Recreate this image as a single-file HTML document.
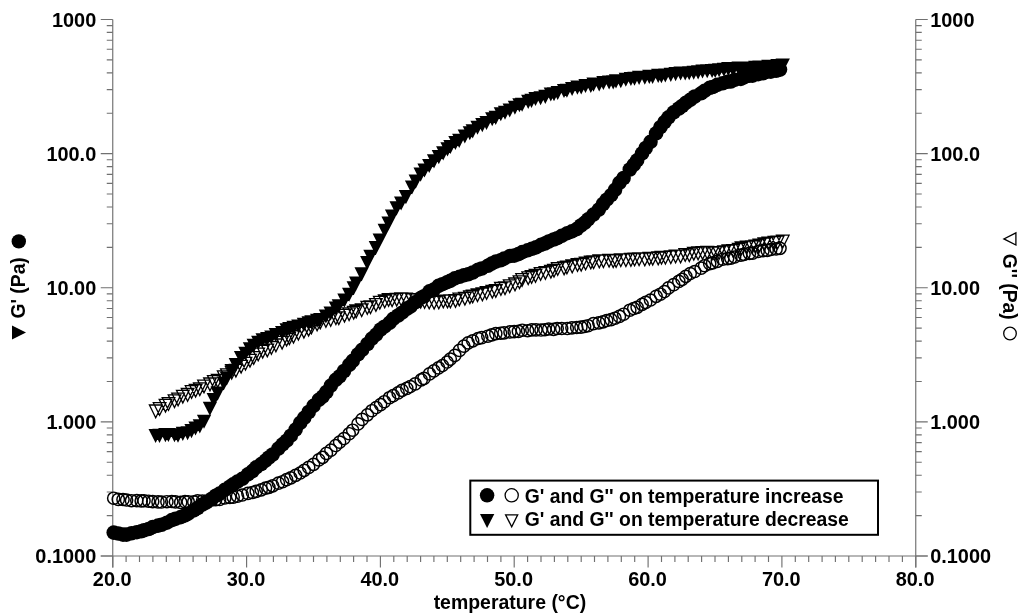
<!DOCTYPE html>
<html><head><meta charset="utf-8"><title>chart</title>
<style>
html,body{margin:0;padding:0;background:#fff;}
body{width:1024px;height:616px;overflow:hidden;}
svg{display:block;will-change:transform;}
text{font-family:"Liberation Sans",sans-serif;font-weight:bold;fill:#000;}
</style></head><body>
<svg width="1024" height="616" viewBox="0 0 1024 616">
<rect width="1024" height="616" fill="#fff"/>
<g stroke="#707070" stroke-width="1.15" fill="none"><path d="M112.75 19.45V567.5"/><path d="M915.75 19.45V567.5"/><path d="M100.75 556.0H927.75"/><path d="M100.75 556.0H112.75M915.75 556.0H927.75M106.75 515.6H112.75M915.75 515.6H921.75M106.75 492.0H112.75M915.75 492.0H921.75M106.75 475.2H112.75M915.75 475.2H921.75M106.75 462.2H112.75M915.75 462.2H921.75M106.75 451.6H112.75M915.75 451.6H921.75M106.75 442.6H112.75M915.75 442.6H921.75M106.75 434.9H112.75M915.75 434.9H921.75M106.75 428.0H112.75M915.75 428.0H921.75M100.75 421.9H112.75M915.75 421.9H927.75M106.75 381.5H112.75M915.75 381.5H921.75M106.75 357.9H112.75M915.75 357.9H921.75M106.75 341.1H112.75M915.75 341.1H921.75M106.75 328.1H112.75M915.75 328.1H921.75M106.75 317.5H112.75M915.75 317.5H921.75M106.75 308.5H112.75M915.75 308.5H921.75M106.75 300.7H112.75M915.75 300.7H921.75M106.75 293.9H112.75M915.75 293.9H921.75M100.75 287.7H112.75M915.75 287.7H927.75M106.75 247.3H112.75M915.75 247.3H921.75M106.75 223.7H112.75M915.75 223.7H921.75M106.75 207.0H112.75M915.75 207.0H921.75M106.75 194.0H112.75M915.75 194.0H921.75M106.75 183.3H112.75M915.75 183.3H921.75M106.75 174.4H112.75M915.75 174.4H921.75M106.75 166.6H112.75M915.75 166.6H921.75M106.75 159.7H112.75M915.75 159.7H921.75M100.75 153.6H112.75M915.75 153.6H927.75M106.75 113.2H112.75M915.75 113.2H921.75M106.75 89.6H112.75M915.75 89.6H921.75M106.75 72.8H112.75M915.75 72.8H921.75M106.75 59.8H112.75M915.75 59.8H921.75M106.75 49.2H112.75M915.75 49.2H921.75M106.75 40.2H112.75M915.75 40.2H921.75M106.75 32.4H112.75M915.75 32.4H921.75M106.75 25.6H112.75M915.75 25.6H921.75M100.75 19.5H112.75M915.75 19.5H927.75M112.8 556.0V567.5M126.1 556.0V562.0M139.5 556.0V562.0M152.9 556.0V562.0M166.3 556.0V562.0M179.7 556.0V562.0M193.1 556.0V562.0M206.4 556.0V562.0M219.8 556.0V562.0M233.2 556.0V562.0M246.6 556.0V567.5M260.0 556.0V562.0M273.4 556.0V562.0M286.7 556.0V562.0M300.1 556.0V562.0M313.5 556.0V562.0M326.9 556.0V562.0M340.3 556.0V562.0M353.6 556.0V562.0M367.0 556.0V562.0M380.4 556.0V567.5M393.8 556.0V562.0M407.2 556.0V562.0M420.6 556.0V562.0M433.9 556.0V562.0M447.3 556.0V562.0M460.7 556.0V562.0M474.1 556.0V562.0M487.5 556.0V562.0M500.9 556.0V562.0M514.2 556.0V567.5M527.6 556.0V562.0M541.0 556.0V562.0M554.4 556.0V562.0M567.8 556.0V562.0M581.2 556.0V562.0M594.5 556.0V562.0M607.9 556.0V562.0M621.3 556.0V562.0M634.7 556.0V562.0M648.1 556.0V567.5M661.5 556.0V562.0M674.9 556.0V562.0M688.2 556.0V562.0M701.6 556.0V562.0M715.0 556.0V562.0M728.4 556.0V562.0M741.8 556.0V562.0M755.1 556.0V562.0M768.5 556.0V562.0M781.9 556.0V567.5M795.3 556.0V562.0M808.7 556.0V562.0M822.1 556.0V562.0M835.4 556.0V562.0M848.8 556.0V562.0M862.2 556.0V562.0M875.6 556.0V562.0M889.0 556.0V562.0M902.4 556.0V562.0M915.8 556.0V567.5"/></g>
<text transform="translate(96.2 563.1) scale(1 1.03)" font-size="19.9" text-anchor="end" >0.1000</text>
<text transform="translate(930.2 563.1) scale(1 1.03)" font-size="19.9" text-anchor="start" >0.1000</text>
<text transform="translate(96.2 429.0) scale(1 1.03)" font-size="19.9" text-anchor="end" >1.000</text>
<text transform="translate(930.2 429.0) scale(1 1.03)" font-size="19.9" text-anchor="start" >1.000</text>
<text transform="translate(96.2 294.8) scale(1 1.03)" font-size="19.9" text-anchor="end" >10.00</text>
<text transform="translate(930.2 294.8) scale(1 1.03)" font-size="19.9" text-anchor="start" >10.00</text>
<text transform="translate(96.2 160.7) scale(1 1.03)" font-size="19.9" text-anchor="end" >100.0</text>
<text transform="translate(930.2 160.7) scale(1 1.03)" font-size="19.9" text-anchor="start" >100.0</text>
<text transform="translate(96.2 26.6) scale(1 1.03)" font-size="19.9" text-anchor="end" >1000</text>
<text transform="translate(930.2 26.6) scale(1 1.03)" font-size="19.9" text-anchor="start" >1000</text>
<text transform="translate(112.2 586.2) scale(1 1.03)" font-size="19.9" text-anchor="middle" >20.0</text>
<text transform="translate(246.0 586.2) scale(1 1.03)" font-size="19.9" text-anchor="middle" >30.0</text>
<text transform="translate(379.8 586.2) scale(1 1.03)" font-size="19.9" text-anchor="middle" >40.0</text>
<text transform="translate(513.6 586.2) scale(1 1.03)" font-size="19.9" text-anchor="middle" >50.0</text>
<text transform="translate(647.5 586.2) scale(1 1.03)" font-size="19.9" text-anchor="middle" >60.0</text>
<text transform="translate(781.3 586.2) scale(1 1.03)" font-size="19.9" text-anchor="middle" >70.0</text>
<text transform="translate(915.1 586.2) scale(1 1.03)" font-size="19.9" text-anchor="middle" >80.0</text>
<text transform="translate(509.9 609.2) scale(1 1.03)" font-size="19.45" text-anchor="middle" >temperature (°C)</text>
<g fill="none" stroke="#000" stroke-width="1.45"><circle cx="113.7" cy="498.2" r="6.1"/><circle cx="118.3" cy="499.4" r="6.1"/><circle cx="123.0" cy="499.5" r="6.1"/><circle cx="126.6" cy="500.0" r="6.1"/><circle cx="131.5" cy="500.7" r="6.1"/><circle cx="136.8" cy="500.6" r="6.1"/><circle cx="141.2" cy="500.9" r="6.1"/><circle cx="144.0" cy="500.7" r="6.1"/><circle cx="148.6" cy="501.2" r="6.1"/><circle cx="152.7" cy="501.6" r="6.1"/><circle cx="158.0" cy="501.9" r="6.1"/><circle cx="161.5" cy="502.0" r="6.1"/><circle cx="166.9" cy="501.7" r="6.1"/><circle cx="171.8" cy="501.5" r="6.1"/><circle cx="175.4" cy="501.8" r="6.1"/><circle cx="180.7" cy="502.4" r="6.1"/><circle cx="185.0" cy="501.6" r="6.1"/><circle cx="188.2" cy="501.7" r="6.1"/><circle cx="193.8" cy="501.9" r="6.1"/><circle cx="197.6" cy="500.8" r="6.1"/><circle cx="202.4" cy="501.0" r="6.1"/><circle cx="206.5" cy="501.1" r="6.1"/><circle cx="211.8" cy="499.8" r="6.1"/><circle cx="215.7" cy="499.6" r="6.1"/><circle cx="219.6" cy="499.5" r="6.1"/><circle cx="224.8" cy="497.9" r="6.1"/><circle cx="229.8" cy="497.5" r="6.1"/><circle cx="233.2" cy="497.1" r="6.1"/><circle cx="237.5" cy="496.2" r="6.1"/><circle cx="242.3" cy="495.0" r="6.1"/><circle cx="247.9" cy="493.4" r="6.1"/><circle cx="252.4" cy="492.5" r="6.1"/><circle cx="256.2" cy="491.3" r="6.1"/><circle cx="261.2" cy="489.8" r="6.1"/><circle cx="265.5" cy="488.1" r="6.1"/><circle cx="268.9" cy="487.3" r="6.1"/><circle cx="272.7" cy="485.8" r="6.1"/><circle cx="278.4" cy="483.1" r="6.1"/><circle cx="282.6" cy="481.7" r="6.1"/><circle cx="286.6" cy="479.6" r="6.1"/><circle cx="290.8" cy="477.8" r="6.1"/><circle cx="295.6" cy="475.3" r="6.1"/><circle cx="300.2" cy="473.0" r="6.1"/><circle cx="304.2" cy="470.3" r="6.1"/><circle cx="308.7" cy="467.4" r="6.1"/><circle cx="313.5" cy="464.3" r="6.1"/><circle cx="318.8" cy="459.9" r="6.1"/><circle cx="322.7" cy="457.3" r="6.1"/><circle cx="326.4" cy="453.4" r="6.1"/><circle cx="330.9" cy="450.1" r="6.1"/><circle cx="335.7" cy="445.5" r="6.1"/><circle cx="339.6" cy="442.1" r="6.1"/><circle cx="344.0" cy="438.5" r="6.1"/><circle cx="349.2" cy="433.7" r="6.1"/><circle cx="352.7" cy="430.2" r="6.1"/><circle cx="358.0" cy="423.9" r="6.1"/><circle cx="362.1" cy="419.4" r="6.1"/><circle cx="367.4" cy="414.8" r="6.1"/><circle cx="371.9" cy="410.7" r="6.1"/><circle cx="376.2" cy="407.5" r="6.1"/><circle cx="380.6" cy="404.6" r="6.1"/><circle cx="384.4" cy="401.7" r="6.1"/><circle cx="389.5" cy="397.7" r="6.1"/><circle cx="393.2" cy="395.6" r="6.1"/><circle cx="398.1" cy="392.9" r="6.1"/><circle cx="402.0" cy="390.3" r="6.1"/><circle cx="406.8" cy="388.4" r="6.1"/><circle cx="410.3" cy="386.5" r="6.1"/><circle cx="415.2" cy="383.9" r="6.1"/><circle cx="421.2" cy="379.9" r="6.1"/><circle cx="424.0" cy="378.4" r="6.1"/><circle cx="429.5" cy="373.9" r="6.1"/><circle cx="433.9" cy="370.9" r="6.1"/><circle cx="438.5" cy="367.9" r="6.1"/><circle cx="442.4" cy="365.5" r="6.1"/><circle cx="447.1" cy="362.0" r="6.1"/><circle cx="450.3" cy="359.1" r="6.1"/><circle cx="454.8" cy="355.4" r="6.1"/><circle cx="459.5" cy="350.4" r="6.1"/><circle cx="463.9" cy="346.1" r="6.1"/><circle cx="468.2" cy="342.9" r="6.1"/><circle cx="472.7" cy="340.8" r="6.1"/><circle cx="478.1" cy="338.5" r="6.1"/><circle cx="481.7" cy="337.6" r="6.1"/><circle cx="487.8" cy="336.2" r="6.1"/><circle cx="491.7" cy="334.9" r="6.1"/><circle cx="495.8" cy="333.6" r="6.1"/><circle cx="500.6" cy="333.2" r="6.1"/><circle cx="504.1" cy="332.8" r="6.1"/><circle cx="510.0" cy="331.9" r="6.1"/><circle cx="514.2" cy="331.6" r="6.1"/><circle cx="518.4" cy="331.4" r="6.1"/><circle cx="522.3" cy="330.2" r="6.1"/><circle cx="527.6" cy="330.7" r="6.1"/><circle cx="531.8" cy="329.8" r="6.1"/><circle cx="536.0" cy="329.8" r="6.1"/><circle cx="541.0" cy="330.0" r="6.1"/><circle cx="544.9" cy="329.7" r="6.1"/><circle cx="548.7" cy="329.0" r="6.1"/><circle cx="553.6" cy="329.3" r="6.1"/><circle cx="557.2" cy="328.5" r="6.1"/><circle cx="561.7" cy="328.5" r="6.1"/><circle cx="567.3" cy="328.5" r="6.1"/><circle cx="571.9" cy="327.8" r="6.1"/><circle cx="576.7" cy="327.5" r="6.1"/><circle cx="580.9" cy="327.1" r="6.1"/><circle cx="584.6" cy="326.5" r="6.1"/><circle cx="588.1" cy="325.7" r="6.1"/><circle cx="593.4" cy="323.6" r="6.1"/><circle cx="598.8" cy="322.8" r="6.1"/><circle cx="603.0" cy="321.8" r="6.1"/><circle cx="606.7" cy="320.5" r="6.1"/><circle cx="611.1" cy="319.6" r="6.1"/><circle cx="615.0" cy="318.2" r="6.1"/><circle cx="619.4" cy="316.4" r="6.1"/><circle cx="623.6" cy="314.2" r="6.1"/><circle cx="629.8" cy="310.2" r="6.1"/><circle cx="633.7" cy="308.5" r="6.1"/><circle cx="637.1" cy="307.3" r="6.1"/><circle cx="642.1" cy="304.3" r="6.1"/><circle cx="645.7" cy="302.4" r="6.1"/><circle cx="650.5" cy="300.0" r="6.1"/><circle cx="656.1" cy="296.3" r="6.1"/><circle cx="660.4" cy="294.2" r="6.1"/><circle cx="664.5" cy="291.5" r="6.1"/><circle cx="668.5" cy="287.9" r="6.1"/><circle cx="673.7" cy="284.6" r="6.1"/><circle cx="678.8" cy="281.4" r="6.1"/><circle cx="682.1" cy="279.4" r="6.1"/><circle cx="685.8" cy="276.3" r="6.1"/><circle cx="690.2" cy="273.5" r="6.1"/><circle cx="694.7" cy="271.5" r="6.1"/><circle cx="701.1" cy="268.1" r="6.1"/><circle cx="704.6" cy="265.7" r="6.1"/><circle cx="709.7" cy="263.7" r="6.1"/><circle cx="712.6" cy="262.8" r="6.1"/><circle cx="717.3" cy="261.3" r="6.1"/><circle cx="722.7" cy="259.2" r="6.1"/><circle cx="727.6" cy="258.6" r="6.1"/><circle cx="730.8" cy="258.1" r="6.1"/><circle cx="734.6" cy="257.0" r="6.1"/><circle cx="740.8" cy="255.2" r="6.1"/><circle cx="744.0" cy="254.3" r="6.1"/><circle cx="749.4" cy="253.4" r="6.1"/><circle cx="752.6" cy="253.2" r="6.1"/><circle cx="758.2" cy="251.4" r="6.1"/><circle cx="763.0" cy="250.6" r="6.1"/><circle cx="767.2" cy="250.4" r="6.1"/><circle cx="770.8" cy="249.5" r="6.1"/><circle cx="776.1" cy="248.9" r="6.1"/><circle cx="780.0" cy="248.3" r="6.1"/></g>
<path d="M776.5 235.2h12.6l-6.3 12.7zM771.3 236.2h12.6l-6.3 12.7zM768.2 236.5h12.6l-6.3 12.7zM762.1 237.2h12.6l-6.3 12.7zM758.0 238.0h12.6l-6.3 12.7zM753.1 239.1h12.6l-6.3 12.7zM749.1 240.2h12.6l-6.3 12.7zM745.8 240.8h12.6l-6.3 12.7zM740.5 241.1h12.6l-6.3 12.7zM735.2 242.0h12.6l-6.3 12.7zM732.4 243.4h12.6l-6.3 12.7zM726.9 244.6h12.6l-6.3 12.7zM722.1 245.0h12.6l-6.3 12.7zM717.7 245.9h12.6l-6.3 12.7zM712.8 246.6h12.6l-6.3 12.7zM709.0 246.6h12.6l-6.3 12.7zM705.8 247.0h12.6l-6.3 12.7zM700.9 246.3h12.6l-6.3 12.7zM696.3 246.7h12.6l-6.3 12.7zM691.8 247.0h12.6l-6.3 12.7zM687.5 247.4h12.6l-6.3 12.7zM683.0 248.9h12.6l-6.3 12.7zM678.9 248.7h12.6l-6.3 12.7zM674.3 250.1h12.6l-6.3 12.7zM669.3 250.1h12.6l-6.3 12.7zM664.5 250.8h12.6l-6.3 12.7zM659.1 251.3h12.6l-6.3 12.7zM655.2 251.4h12.6l-6.3 12.7zM651.9 252.0h12.6l-6.3 12.7zM646.4 252.4h12.6l-6.3 12.7zM643.1 252.4h12.6l-6.3 12.7zM638.5 253.1h12.6l-6.3 12.7zM632.8 252.9h12.6l-6.3 12.7zM628.3 253.2h12.6l-6.3 12.7zM624.6 253.5h12.6l-6.3 12.7zM619.6 253.8h12.6l-6.3 12.7zM614.5 253.8h12.6l-6.3 12.7zM609.8 254.7h12.6l-6.3 12.7zM606.9 254.8h12.6l-6.3 12.7zM602.8 254.3h12.6l-6.3 12.7zM597.1 254.9h12.6l-6.3 12.7zM593.0 255.0h12.6l-6.3 12.7zM587.3 255.9h12.6l-6.3 12.7zM584.5 256.1h12.6l-6.3 12.7zM579.3 257.2h12.6l-6.3 12.7zM574.9 258.4h12.6l-6.3 12.7zM571.2 258.6h12.6l-6.3 12.7zM565.9 260.0h12.6l-6.3 12.7zM560.6 261.2h12.6l-6.3 12.7zM557.8 262.0h12.6l-6.3 12.7zM551.4 262.7h12.6l-6.3 12.7zM547.7 264.3h12.6l-6.3 12.7zM544.6 265.4h12.6l-6.3 12.7zM539.1 266.6h12.6l-6.3 12.7zM534.3 267.6h12.6l-6.3 12.7zM529.2 269.5h12.6l-6.3 12.7zM525.3 270.7h12.6l-6.3 12.7zM521.9 271.8h12.6l-6.3 12.7zM515.8 273.7h12.6l-6.3 12.7zM513.2 275.8h12.6l-6.3 12.7zM508.7 278.0h12.6l-6.3 12.7zM503.4 279.9h12.6l-6.3 12.7zM498.7 281.8h12.6l-6.3 12.7zM494.6 282.5h12.6l-6.3 12.7zM489.5 284.7h12.6l-6.3 12.7zM486.0 285.4h12.6l-6.3 12.7zM480.3 286.7h12.6l-6.3 12.7zM476.1 288.0h12.6l-6.3 12.7zM471.2 288.8h12.6l-6.3 12.7zM466.4 290.2h12.6l-6.3 12.7zM463.6 290.8h12.6l-6.3 12.7zM458.6 292.3h12.6l-6.3 12.7zM453.0 293.1h12.6l-6.3 12.7zM449.2 294.6h12.6l-6.3 12.7zM444.1 295.0h12.6l-6.3 12.7zM441.2 295.2h12.6l-6.3 12.7zM437.0 295.1h12.6l-6.3 12.7zM432.5 296.0h12.6l-6.3 12.7zM427.8 296.3h12.6l-6.3 12.7zM422.9 296.2h12.6l-6.3 12.7zM418.3 295.5h12.6l-6.3 12.7zM414.4 295.4h12.6l-6.3 12.7zM409.5 293.7h12.6l-6.3 12.7zM405.7 293.8h12.6l-6.3 12.7zM399.7 293.2h12.6l-6.3 12.7zM394.9 293.0h12.6l-6.3 12.7zM390.4 293.4h12.6l-6.3 12.7zM385.8 293.8h12.6l-6.3 12.7zM382.3 293.7h12.6l-6.3 12.7zM378.4 295.0h12.6l-6.3 12.7zM373.5 296.4h12.6l-6.3 12.7zM369.6 298.6h12.6l-6.3 12.7zM364.2 300.9h12.6l-6.3 12.7zM361.0 301.5h12.6l-6.3 12.7zM355.4 303.9h12.6l-6.3 12.7zM349.9 305.0h12.6l-6.3 12.7zM347.4 306.3h12.6l-6.3 12.7zM342.8 307.8h12.6l-6.3 12.7zM338.2 309.4h12.6l-6.3 12.7zM332.5 311.8h12.6l-6.3 12.7zM329.6 311.8h12.6l-6.3 12.7zM324.4 313.5h12.6l-6.3 12.7zM319.6 314.6h12.6l-6.3 12.7zM314.0 316.2h12.6l-6.3 12.7zM310.8 318.2h12.6l-6.3 12.7zM305.1 321.2h12.6l-6.3 12.7zM302.3 323.3h12.6l-6.3 12.7zM297.6 325.4h12.6l-6.3 12.7zM292.1 327.3h12.6l-6.3 12.7zM287.2 330.3h12.6l-6.3 12.7zM283.1 331.8h12.6l-6.3 12.7zM280.3 333.3h12.6l-6.3 12.7zM275.8 336.3h12.6l-6.3 12.7zM269.6 339.0h12.6l-6.3 12.7zM265.1 341.5h12.6l-6.3 12.7zM261.0 344.1h12.6l-6.3 12.7zM256.4 345.4h12.6l-6.3 12.7zM251.9 348.1h12.6l-6.3 12.7zM247.4 351.7h12.6l-6.3 12.7zM243.7 354.4h12.6l-6.3 12.7zM239.2 357.3h12.6l-6.3 12.7zM234.8 360.3h12.6l-6.3 12.7zM229.6 364.4h12.6l-6.3 12.7zM225.4 366.4h12.6l-6.3 12.7zM220.6 368.9h12.6l-6.3 12.7zM217.4 370.8h12.6l-6.3 12.7zM211.4 374.5h12.6l-6.3 12.7zM207.5 375.6h12.6l-6.3 12.7zM203.7 378.0h12.6l-6.3 12.7zM197.7 380.1h12.6l-6.3 12.7zM193.5 382.8h12.6l-6.3 12.7zM189.3 384.3h12.6l-6.3 12.7zM185.3 385.7h12.6l-6.3 12.7zM181.3 388.5h12.6l-6.3 12.7zM176.5 390.4h12.6l-6.3 12.7zM171.8 393.2h12.6l-6.3 12.7zM168.2 394.8h12.6l-6.3 12.7zM162.2 397.6h12.6l-6.3 12.7zM159.2 399.3h12.6l-6.3 12.7zM153.3 402.7h12.6l-6.3 12.7zM149.4 405.0h12.6l-6.3 12.7z" fill="none" stroke="#000" stroke-width="1.3" stroke-linejoin="miter"/>
<path d="M775.6 58.5h14.3l-7.2 14.1zM770.4 59.1h14.3l-7.2 14.1zM767.3 60.3h14.3l-7.2 14.1zM761.3 59.8h14.3l-7.2 14.1zM757.1 60.5h14.3l-7.2 14.1zM752.3 60.4h14.3l-7.2 14.1zM748.2 60.7h14.3l-7.2 14.1zM744.9 61.4h14.3l-7.2 14.1zM739.7 61.9h14.3l-7.2 14.1zM734.3 61.7h14.3l-7.2 14.1zM731.5 61.4h14.3l-7.2 14.1zM726.0 62.7h14.3l-7.2 14.1zM721.2 62.1h14.3l-7.2 14.1zM716.8 62.7h14.3l-7.2 14.1zM712.0 63.2h14.3l-7.2 14.1zM708.1 63.8h14.3l-7.2 14.1zM705.0 64.0h14.3l-7.2 14.1zM700.1 64.2h14.3l-7.2 14.1zM695.4 64.4h14.3l-7.2 14.1zM691.0 65.3h14.3l-7.2 14.1zM686.6 65.7h14.3l-7.2 14.1zM682.1 66.2h14.3l-7.2 14.1zM678.1 66.5h14.3l-7.2 14.1zM673.5 66.4h14.3l-7.2 14.1zM668.5 67.1h14.3l-7.2 14.1zM663.7 67.8h14.3l-7.2 14.1zM658.2 68.4h14.3l-7.2 14.1zM654.3 69.1h14.3l-7.2 14.1zM651.1 68.8h14.3l-7.2 14.1zM645.5 69.8h14.3l-7.2 14.1zM642.2 69.8h14.3l-7.2 14.1zM637.7 70.7h14.3l-7.2 14.1zM632.0 70.8h14.3l-7.2 14.1zM627.4 71.7h14.3l-7.2 14.1zM623.8 71.9h14.3l-7.2 14.1zM618.7 72.7h14.3l-7.2 14.1zM613.7 74.2h14.3l-7.2 14.1zM608.9 74.3h14.3l-7.2 14.1zM606.1 75.3h14.3l-7.2 14.1zM602.0 75.5h14.3l-7.2 14.1zM596.3 76.0h14.3l-7.2 14.1zM592.1 77.4h14.3l-7.2 14.1zM586.4 77.6h14.3l-7.2 14.1zM583.7 78.9h14.3l-7.2 14.1zM578.4 79.0h14.3l-7.2 14.1zM574.1 80.4h14.3l-7.2 14.1zM570.3 80.6h14.3l-7.2 14.1zM565.0 81.9h14.3l-7.2 14.1zM559.8 83.7h14.3l-7.2 14.1zM556.9 83.9h14.3l-7.2 14.1zM550.6 86.0h14.3l-7.2 14.1zM546.9 87.2h14.3l-7.2 14.1zM543.7 87.5h14.3l-7.2 14.1zM538.2 89.8h14.3l-7.2 14.1zM533.5 91.2h14.3l-7.2 14.1zM528.4 92.0h14.3l-7.2 14.1zM524.4 93.8h14.3l-7.2 14.1zM521.1 94.8h14.3l-7.2 14.1zM515.0 97.7h14.3l-7.2 14.1zM512.3 98.2h14.3l-7.2 14.1zM507.8 100.7h14.3l-7.2 14.1zM502.6 103.4h14.3l-7.2 14.1zM497.9 105.7h14.3l-7.2 14.1zM493.7 107.2h14.3l-7.2 14.1zM488.6 110.8h14.3l-7.2 14.1zM485.1 112.2h14.3l-7.2 14.1zM479.4 116.0h14.3l-7.2 14.1zM475.2 118.1h14.3l-7.2 14.1zM470.4 120.7h14.3l-7.2 14.1zM465.6 124.3h14.3l-7.2 14.1zM462.7 126.2h14.3l-7.2 14.1zM457.7 129.5h14.3l-7.2 14.1zM452.1 133.8h14.3l-7.2 14.1zM448.3 135.9h14.3l-7.2 14.1zM443.3 140.0h14.3l-7.2 14.1zM440.4 142.3h14.3l-7.2 14.1zM436.1 146.3h14.3l-7.2 14.1zM431.7 150.1h14.3l-7.2 14.1zM426.9 154.3h14.3l-7.2 14.1zM422.1 158.9h14.3l-7.2 14.1zM417.4 163.4h14.3l-7.2 14.1zM413.5 167.6h14.3l-7.2 14.1zM408.6 174.6h14.3l-7.2 14.1zM404.9 180.4h14.3l-7.2 14.1zM398.8 190.1h14.3l-7.2 14.1zM394.0 196.5h14.3l-7.2 14.1zM389.5 201.3h14.3l-7.2 14.1zM384.9 209.4h14.3l-7.2 14.1zM381.4 216.5h14.3l-7.2 14.1zM377.6 223.7h14.3l-7.2 14.1zM372.6 233.4h14.3l-7.2 14.1zM368.7 241.0h14.3l-7.2 14.1zM363.3 249.7h14.3l-7.2 14.1zM360.1 256.0h14.3l-7.2 14.1zM354.5 267.3h14.3l-7.2 14.1zM349.0 276.6h14.3l-7.2 14.1zM346.6 281.2h14.3l-7.2 14.1zM342.0 287.7h14.3l-7.2 14.1zM337.3 293.6h14.3l-7.2 14.1zM331.7 299.3h14.3l-7.2 14.1zM328.8 301.5h14.3l-7.2 14.1zM323.5 306.6h14.3l-7.2 14.1zM318.8 309.4h14.3l-7.2 14.1zM313.2 312.9h14.3l-7.2 14.1zM310.0 313.8h14.3l-7.2 14.1zM304.3 315.3h14.3l-7.2 14.1zM301.5 316.2h14.3l-7.2 14.1zM296.8 317.8h14.3l-7.2 14.1zM291.2 319.4h14.3l-7.2 14.1zM286.4 320.7h14.3l-7.2 14.1zM282.2 322.1h14.3l-7.2 14.1zM279.5 323.3h14.3l-7.2 14.1zM275.0 325.9h14.3l-7.2 14.1zM268.7 327.9h14.3l-7.2 14.1zM264.2 330.4h14.3l-7.2 14.1zM260.1 331.9h14.3l-7.2 14.1zM255.5 333.2h14.3l-7.2 14.1zM251.1 335.7h14.3l-7.2 14.1zM246.6 338.8h14.3l-7.2 14.1zM242.8 342.2h14.3l-7.2 14.1zM238.3 346.7h14.3l-7.2 14.1zM233.9 350.9h14.3l-7.2 14.1zM228.7 357.9h14.3l-7.2 14.1zM224.5 364.0h14.3l-7.2 14.1zM219.7 371.5h14.3l-7.2 14.1zM216.6 376.4h14.3l-7.2 14.1zM210.5 386.6h14.3l-7.2 14.1zM206.6 393.0h14.3l-7.2 14.1zM202.8 401.7h14.3l-7.2 14.1zM196.9 414.7h14.3l-7.2 14.1zM192.7 419.3h14.3l-7.2 14.1zM188.4 421.4h14.3l-7.2 14.1zM184.4 424.1h14.3l-7.2 14.1zM180.5 426.2h14.3l-7.2 14.1zM175.7 426.8h14.3l-7.2 14.1zM170.9 428.7h14.3l-7.2 14.1zM167.4 428.2h14.3l-7.2 14.1zM161.3 428.0h14.3l-7.2 14.1zM158.3 428.1h14.3l-7.2 14.1zM152.4 428.8h14.3l-7.2 14.1zM148.5 429.0h14.3l-7.2 14.1z" fill="#000"/>
<g fill="#000"><circle cx="113.7" cy="532.6" r="7.3"/><circle cx="118.3" cy="533.5" r="7.3"/><circle cx="123.0" cy="534.6" r="7.3"/><circle cx="126.6" cy="534.6" r="7.3"/><circle cx="131.5" cy="533.3" r="7.3"/><circle cx="136.8" cy="532.2" r="7.3"/><circle cx="141.2" cy="531.3" r="7.3"/><circle cx="144.0" cy="530.3" r="7.3"/><circle cx="148.6" cy="529.0" r="7.3"/><circle cx="152.7" cy="527.1" r="7.3"/><circle cx="158.0" cy="525.6" r="7.3"/><circle cx="161.5" cy="524.8" r="7.3"/><circle cx="166.9" cy="522.7" r="7.3"/><circle cx="171.8" cy="520.1" r="7.3"/><circle cx="175.4" cy="518.9" r="7.3"/><circle cx="180.7" cy="517.1" r="7.3"/><circle cx="185.0" cy="515.4" r="7.3"/><circle cx="188.2" cy="513.6" r="7.3"/><circle cx="193.8" cy="510.4" r="7.3"/><circle cx="197.6" cy="508.1" r="7.3"/><circle cx="202.4" cy="504.5" r="7.3"/><circle cx="206.5" cy="502.4" r="7.3"/><circle cx="211.8" cy="498.7" r="7.3"/><circle cx="215.7" cy="495.7" r="7.3"/><circle cx="219.6" cy="493.6" r="7.3"/><circle cx="224.8" cy="489.9" r="7.3"/><circle cx="229.8" cy="486.7" r="7.3"/><circle cx="233.2" cy="484.3" r="7.3"/><circle cx="237.5" cy="481.6" r="7.3"/><circle cx="242.3" cy="478.8" r="7.3"/><circle cx="247.9" cy="474.4" r="7.3"/><circle cx="252.4" cy="471.1" r="7.3"/><circle cx="256.2" cy="467.3" r="7.3"/><circle cx="261.2" cy="464.1" r="7.3"/><circle cx="265.5" cy="460.6" r="7.3"/><circle cx="268.9" cy="457.5" r="7.3"/><circle cx="272.7" cy="454.5" r="7.3"/><circle cx="278.4" cy="448.6" r="7.3"/><circle cx="282.6" cy="444.4" r="7.3"/><circle cx="286.6" cy="440.7" r="7.3"/><circle cx="290.8" cy="435.7" r="7.3"/><circle cx="295.6" cy="429.6" r="7.3"/><circle cx="300.2" cy="422.9" r="7.3"/><circle cx="304.2" cy="417.9" r="7.3"/><circle cx="308.7" cy="412.0" r="7.3"/><circle cx="313.5" cy="405.9" r="7.3"/><circle cx="318.8" cy="399.8" r="7.3"/><circle cx="322.7" cy="396.6" r="7.3"/><circle cx="326.4" cy="392.0" r="7.3"/><circle cx="330.9" cy="385.6" r="7.3"/><circle cx="335.7" cy="379.9" r="7.3"/><circle cx="339.6" cy="376.3" r="7.3"/><circle cx="344.0" cy="371.0" r="7.3"/><circle cx="349.2" cy="364.9" r="7.3"/><circle cx="352.7" cy="360.9" r="7.3"/><circle cx="358.0" cy="354.4" r="7.3"/><circle cx="362.1" cy="349.9" r="7.3"/><circle cx="367.4" cy="344.0" r="7.3"/><circle cx="371.9" cy="338.6" r="7.3"/><circle cx="376.2" cy="334.6" r="7.3"/><circle cx="380.6" cy="329.5" r="7.3"/><circle cx="384.4" cy="326.7" r="7.3"/><circle cx="389.5" cy="322.9" r="7.3"/><circle cx="393.2" cy="318.9" r="7.3"/><circle cx="398.1" cy="315.5" r="7.3"/><circle cx="402.0" cy="312.7" r="7.3"/><circle cx="406.8" cy="308.8" r="7.3"/><circle cx="410.3" cy="306.7" r="7.3"/><circle cx="415.2" cy="302.3" r="7.3"/><circle cx="421.2" cy="297.7" r="7.3"/><circle cx="424.0" cy="296.2" r="7.3"/><circle cx="429.5" cy="291.3" r="7.3"/><circle cx="433.9" cy="289.5" r="7.3"/><circle cx="438.5" cy="285.9" r="7.3"/><circle cx="442.4" cy="284.2" r="7.3"/><circle cx="447.1" cy="282.2" r="7.3"/><circle cx="450.3" cy="280.8" r="7.3"/><circle cx="454.8" cy="278.4" r="7.3"/><circle cx="459.5" cy="276.8" r="7.3"/><circle cx="463.9" cy="275.3" r="7.3"/><circle cx="468.2" cy="274.3" r="7.3"/><circle cx="472.7" cy="272.5" r="7.3"/><circle cx="478.1" cy="269.7" r="7.3"/><circle cx="481.7" cy="268.5" r="7.3"/><circle cx="487.8" cy="265.8" r="7.3"/><circle cx="491.7" cy="263.6" r="7.3"/><circle cx="495.8" cy="261.6" r="7.3"/><circle cx="500.6" cy="260.3" r="7.3"/><circle cx="504.1" cy="258.6" r="7.3"/><circle cx="510.0" cy="256.0" r="7.3"/><circle cx="514.2" cy="255.6" r="7.3"/><circle cx="518.4" cy="254.1" r="7.3"/><circle cx="522.3" cy="252.1" r="7.3"/><circle cx="527.6" cy="250.3" r="7.3"/><circle cx="531.8" cy="248.8" r="7.3"/><circle cx="536.0" cy="247.4" r="7.3"/><circle cx="541.0" cy="244.9" r="7.3"/><circle cx="544.9" cy="243.5" r="7.3"/><circle cx="548.7" cy="241.5" r="7.3"/><circle cx="553.6" cy="239.5" r="7.3"/><circle cx="557.2" cy="238.2" r="7.3"/><circle cx="561.7" cy="235.9" r="7.3"/><circle cx="567.3" cy="233.2" r="7.3"/><circle cx="571.9" cy="231.4" r="7.3"/><circle cx="576.7" cy="229.1" r="7.3"/><circle cx="580.9" cy="225.5" r="7.3"/><circle cx="584.6" cy="222.8" r="7.3"/><circle cx="588.1" cy="219.4" r="7.3"/><circle cx="593.4" cy="214.6" r="7.3"/><circle cx="598.8" cy="209.6" r="7.3"/><circle cx="603.0" cy="204.0" r="7.3"/><circle cx="606.7" cy="199.7" r="7.3"/><circle cx="611.1" cy="195.2" r="7.3"/><circle cx="615.0" cy="189.9" r="7.3"/><circle cx="619.4" cy="182.8" r="7.3"/><circle cx="623.6" cy="178.0" r="7.3"/><circle cx="629.8" cy="169.5" r="7.3"/><circle cx="633.7" cy="164.9" r="7.3"/><circle cx="637.1" cy="160.4" r="7.3"/><circle cx="642.1" cy="153.3" r="7.3"/><circle cx="645.7" cy="148.0" r="7.3"/><circle cx="650.5" cy="141.8" r="7.3"/><circle cx="656.1" cy="133.4" r="7.3"/><circle cx="660.4" cy="127.2" r="7.3"/><circle cx="664.5" cy="122.1" r="7.3"/><circle cx="668.5" cy="117.3" r="7.3"/><circle cx="673.7" cy="112.3" r="7.3"/><circle cx="678.8" cy="108.5" r="7.3"/><circle cx="682.1" cy="106.0" r="7.3"/><circle cx="685.8" cy="102.9" r="7.3"/><circle cx="690.2" cy="99.9" r="7.3"/><circle cx="694.7" cy="96.5" r="7.3"/><circle cx="701.1" cy="93.3" r="7.3"/><circle cx="704.6" cy="90.9" r="7.3"/><circle cx="709.7" cy="87.9" r="7.3"/><circle cx="712.6" cy="87.0" r="7.3"/><circle cx="717.3" cy="84.9" r="7.3"/><circle cx="722.7" cy="83.3" r="7.3"/><circle cx="727.6" cy="81.7" r="7.3"/><circle cx="730.8" cy="81.5" r="7.3"/><circle cx="734.6" cy="79.8" r="7.3"/><circle cx="740.8" cy="78.9" r="7.3"/><circle cx="744.0" cy="77.4" r="7.3"/><circle cx="749.4" cy="75.7" r="7.3"/><circle cx="752.6" cy="75.6" r="7.3"/><circle cx="758.2" cy="74.2" r="7.3"/><circle cx="763.0" cy="73.3" r="7.3"/><circle cx="767.2" cy="71.5" r="7.3"/><circle cx="770.8" cy="71.6" r="7.3"/><circle cx="776.1" cy="70.8" r="7.3"/><circle cx="780.0" cy="69.6" r="7.3"/></g>
<rect x="470.3" y="480.6" width="407.7" height="54.2" fill="#fff" stroke="#000" stroke-width="2"/>
<circle cx="487.1" cy="495.3" r="7.25" fill="#000"/>
<circle cx="511.7" cy="495.3" r="6.6" fill="none" stroke="#000" stroke-width="1.3"/>
<path d="M480.0 514.0h14.3l-7.2 14.1z" fill="#000"/>
<path d="M505.6 514.8h12.1l-6.0 12z" fill="none" stroke="#000" stroke-width="1.3"/>
<text transform="translate(524.8 502.7) scale(1 1.03)" font-size="19.33" text-anchor="start" >G' and G'' on temperature increase</text>
<text transform="translate(524.8 526.4) scale(1 1.03)" font-size="19.33" text-anchor="start" >G' and G'' on temperature decrease</text>
<text transform="translate(25.2 318.6) rotate(-90) scale(1 1.03)" font-size="19.3">G' (Pa)</text>
<circle cx="18.8" cy="241.4" r="7.2" fill="#000"/>
<path d="M12.0 325.5v14l14 -7z" fill="#000"/>
<text transform="translate(1003.2 253.8) rotate(90) scale(1 1.03)" font-size="19.3">G'' (Pa)</text>
<circle cx="1010" cy="333.5" r="6.3" fill="none" stroke="#000" stroke-width="1.3"/>
<path d="M1015.9 232.9v12.1l-12 -6.05z" fill="none" stroke="#000" stroke-width="1.3"/>
</svg>
</body></html>
